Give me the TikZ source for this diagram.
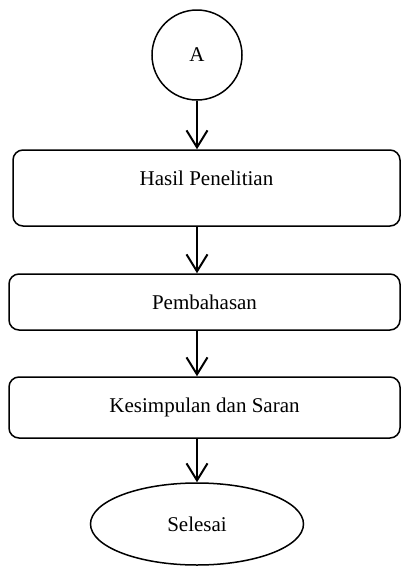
\documentclass[tikz,border=0pt]{standalone}
\usepackage{fontspec}
\setmainfont{Liberation Serif}
\usetikzlibrary{arrows.meta, positioning, shapes.geometric}

\tikzset{
  flow/.style={line width=2pt, -{Straight Barb[length=17pt, width=21pt, line width=2pt]}},
  proses/.style={draw, line width=1.5pt, rounded corners=10pt, inner sep=0pt,
    minimum width=391pt, text height=35pt},
}

\begin{document}
\begin{tikzpicture}[on grid, font=\fontsize{21}{25}\selectfont]
   \useasboundingbox (0,0) rectangle (401pt,-566pt);

   \node[draw, circle, line width=1.5pt, minimum size=90pt, inner sep=0pt] (A) at (197pt,-55pt) {A};
   \node[proses, minimum width=387pt, text depth=41pt, xshift=9.5pt] (hasil) [below=133pt of A] {Hasil Penelitian};
   \node[proses, text depth=21pt, xshift=-2pt] (bahas) [below=114pt of hasil] {Pembahasan};
   \node[proses, text depth=26pt] (simpul) [below=105.5pt of bahas] {Kesimpulan dan Saran};
   \node[draw, ellipse, line width=1.5pt, minimum width=213pt, minimum height=82pt, xshift=-7.5pt] (selesai) [below=116.5pt of simpul] {Selesai};

   \draw[flow] (A.south) -- (A.south |- hasil.north);
   \draw[flow] (A.south |- hasil.south) -- (A.south |- bahas.north);
   \draw[flow] (A.south |- bahas.south) -- (A.south |- simpul.north);
   \draw[flow] (selesai.north |- simpul.south) -- (selesai.north);
\end{tikzpicture}
\end{document}
